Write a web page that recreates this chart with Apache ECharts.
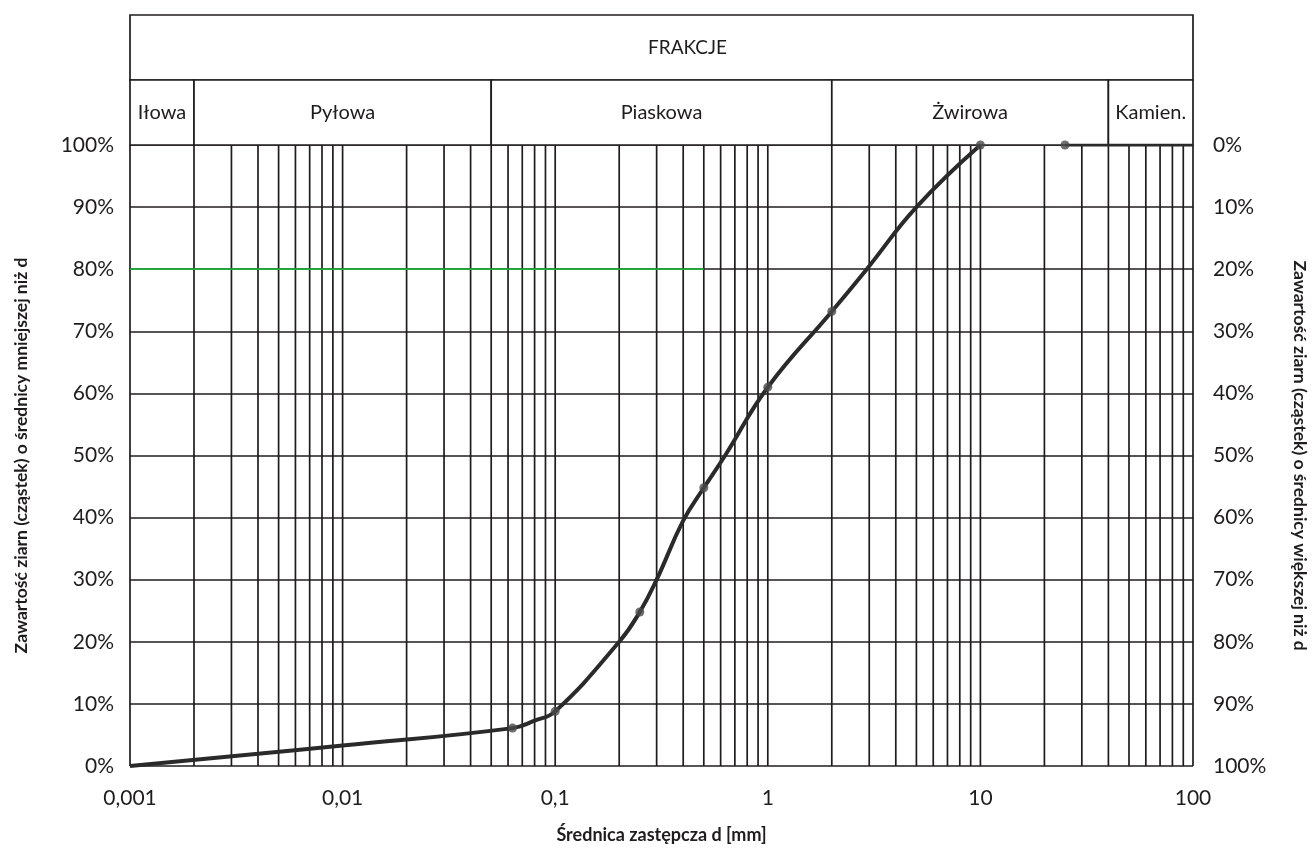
<!DOCTYPE html>
<html>
<head>
<meta charset="utf-8">
<script src="https://cdn.jsdelivr.net/npm/echarts@6/dist/echarts.min.js"></script>
<style>
  html, body { margin: 0; padding: 0; background: #ffffff; }
  #chart { width: 1312px; height: 851px; }
</style>
</head>
<body>
<div id="chart"></div>
<script>
// ---- data ----
// measured points (markers)
const sampleDiameters = [0.063, 0.1, 0.25, 0.5, 1, 2, 10];           // mm
const samplePassing   = [6.1, 8.8, 24.8, 44.8, 61.0, 73.2, 100];     // % finer
// the drawn grading curve, read along its path
const curveDiameters = [0.001, 0.01, 0.063, 0.08, 0.1, 0.2, 0.25, 0.3, 0.4, 0.5, 0.63, 1, 2, 2.92, 5, 10];
const curvePassing   = [0, 3.3, 6.1, 7.3, 8.8, 20, 24.8, 30, 39.5, 44.8, 50, 61.0, 73.2, 80, 90, 100];
// flat segment at 100 %
const tailDiameters = [25, 100];
const tailPassing   = [100, 100];

// ---- axes / grid ----
const xTicks      = [0.001, 0.01, 0.1, 1, 10, 100];
const xTickLabels = ['0,001', '0,01', '0,1', '1', '10', '100'];
const gridDecades   = [0.001, 0.01, 0.1, 1, 10];
const gridMantissas = [1, 2, 3, 4, 5, 6, 7, 8, 9];
const gridEnd = 100;
const greenLineX = [0.001, 0.5];
const greenLineY = [80, 80];

// ---- header (fractions) ----
const headerTitle = 'FRAKCJE';
const fractionNames  = ['Iłowa', 'Pyłowa', 'Piaskowa', 'Żwirowa', 'Kamien.'];
const fractionBounds = [0.001, 0.002, 0.05, 2, 40, 100];

// ---- titles ----
const xTitle  = 'Średnica zastępcza d [mm]';
const yTitleL = 'Zawartość ziarn (cząstek) o średnicy mniejszej niż d';
const yTitleR = 'Zawartość ziarn (cząstek) o średnicy większej niż d';

const INK = '#1f1c1d';
const FONT = 'Lato, "Open Sans", sans-serif';

// vertical grid values (tick positions of a 1-2-...-9 log grid)
const vLines = [];
gridDecades.forEach(d => gridMantissas.forEach(m => vLines.push(+(d * m).toPrecision(6))));
vLines.push(gridEnd);

// header cells
const headerCells = [{ lo: fractionBounds[0], hi: fractionBounds[fractionBounds.length - 1], row: 1, name: headerTitle }];
fractionNames.forEach((n, i) => headerCells.push({ lo: fractionBounds[i], hi: fractionBounds[i + 1], row: 0, name: n }));

function xLabel(v) {
  const idx = xTicks.findIndex(t => Math.abs(Math.log10(t) - Math.log10(v)) < 1e-6);
  return idx >= 0 ? xTickLabels[idx] : '';
}

const GL = 130, GR = 119;

const option = {
  backgroundColor: '#ffffff',
  animation: false,
  grid: [
    { left: GL, right: GR, top: 145, bottom: 85, outerBoundsMode: 'none', containLabel: false },
    { left: GL, right: GR, top: 15, height: 130, outerBoundsMode: 'none', containLabel: false }
  ],
  xAxis: [
    {
      type: 'log', logBase: 10, min: 0.001, max: 100, gridIndex: 0,
      axisLine: { show: false }, axisTick: { show: false }, splitLine: { show: false },
      axisLabel: { formatter: xLabel, color: INK, fontFamily: FONT, fontSize: 21, margin: 22 },
      name: xTitle, nameLocation: 'middle', nameGap: 60,
      nameTextStyle: { color: INK, fontFamily: FONT, fontSize: 18, fontWeight: 'bold' }
    },
    {
      type: 'log', logBase: 10, min: 0.001, max: 100, gridIndex: 1, show: false
    }
  ],
  yAxis: [
    {
      type: 'value', min: 0, max: 100, interval: 10, gridIndex: 0, position: 'left',
      axisLine: { show: false }, axisTick: { show: false },
      splitLine: { show: true, lineStyle: { color: INK, width: 1.7 } },
      axisLabel: { formatter: '{value}%', color: INK, fontFamily: FONT, fontSize: 21, margin: 16 },
      name: yTitleL, nameLocation: 'middle', nameGap: 100, nameRotate: 90,
      nameTextStyle: { color: INK, fontFamily: FONT, fontSize: 17.5, fontWeight: 'bold' }
    },
    {
      type: 'value', min: 0, max: 100, interval: 10, gridIndex: 0, position: 'right', inverse: true,
      axisLine: { show: false }, axisTick: { show: false }, splitLine: { show: false },
      axisLabel: { formatter: '{value}%', color: INK, fontFamily: FONT, fontSize: 21, margin: 20 },
      name: yTitleR, nameLocation: 'middle', nameGap: 98, nameRotate: -90,
      nameTextStyle: { color: INK, fontFamily: FONT, fontSize: 17.5, fontWeight: 'bold' }
    },
    {
      type: 'value', min: 0, max: 2, gridIndex: 1, show: false
    }
  ],
  series: [
    {
      name: 'vgrid',
      type: 'custom', xAxisIndex: 0, yAxisIndex: 0, silent: true, z: 1,
      data: vLines.map(v => [v]),
      renderItem: function (params, api) {
        const v = api.value(0);
        const pTop = api.coord([v, 100]);
        const pBot = api.coord([v, 0]);
        return {
          type: 'line',
          shape: { x1: pTop[0], y1: pTop[1], x2: pBot[0], y2: pBot[1] },
          style: { stroke: INK, lineWidth: 1.7 }
        };
      }
    },
    {
      name: 'green80',
      type: 'line', xAxisIndex: 0, yAxisIndex: 0, silent: true, z: 2,
      data: greenLineX.map((x, i) => [x, greenLineY[i]]),
      showSymbol: false, symbol: 'none',
      lineStyle: { color: '#1fae3c', width: 1.8 }
    },
    {
      name: 'header',
      type: 'custom', xAxisIndex: 1, yAxisIndex: 2, silent: true, z: 2,
      data: headerCells.map(c => [c.lo, c.hi, c.row]),
      renderItem: function (params, api) {
        const cell = headerCells[params.dataIndex];
        const p1 = api.coord([api.value(0), api.value(2) + 1]);
        const p2 = api.coord([api.value(1), api.value(2)]);
        const cx = (p1[0] + p2[0]) / 2 + (cell.row === 1 ? 26 : 0);
        return {
          type: 'group',
          children: [
            {
              type: 'rect',
              shape: { x: p1[0], y: p1[1], width: p2[0] - p1[0], height: p2[1] - p1[1] },
              style: { fill: '#ffffff', stroke: INK, lineWidth: 1.7 }
            },
            {
              type: 'text',
              style: {
                text: cell.name, x: cx, y: (p1[1] + p2[1]) / 2,
                align: 'center', verticalAlign: 'middle',
                fill: INK, font: (cell.row === 1 ? '19px ' : '20px ') + FONT
              }
            }
          ]
        };
      }
    },
    {
      name: 'curve',
      type: 'line', xAxisIndex: 0, yAxisIndex: 0, z: 5,
      data: curveDiameters.map((d, i) => [d, curvePassing[i]]),
      smooth: 0.45, showSymbol: false, symbol: 'none',
      lineStyle: { color: '#2a2a2a', width: 4 }
    },
    {
      name: 'tail',
      type: 'line', xAxisIndex: 0, yAxisIndex: 0, z: 5,
      data: tailDiameters.map((d, i) => [d, tailPassing[i]]),
      showSymbol: false, symbol: 'none',
      lineStyle: { color: '#2a2a2a', width: 3 }
    },
    {
      name: 'samples',
      type: 'scatter', xAxisIndex: 0, yAxisIndex: 0, z: 6,
      data: sampleDiameters.map((d, i) => [d, samplePassing[i]]).concat([[tailDiameters[0], tailPassing[0]]]),
      symbol: 'circle', symbolSize: 9,
      itemStyle: { color: '#4a4a4a' }
    }
  ]
};

const chart = echarts.init(document.getElementById('chart'), null, { renderer: 'canvas' });
chart.setOption(option);
</script>
</body>
</html>
